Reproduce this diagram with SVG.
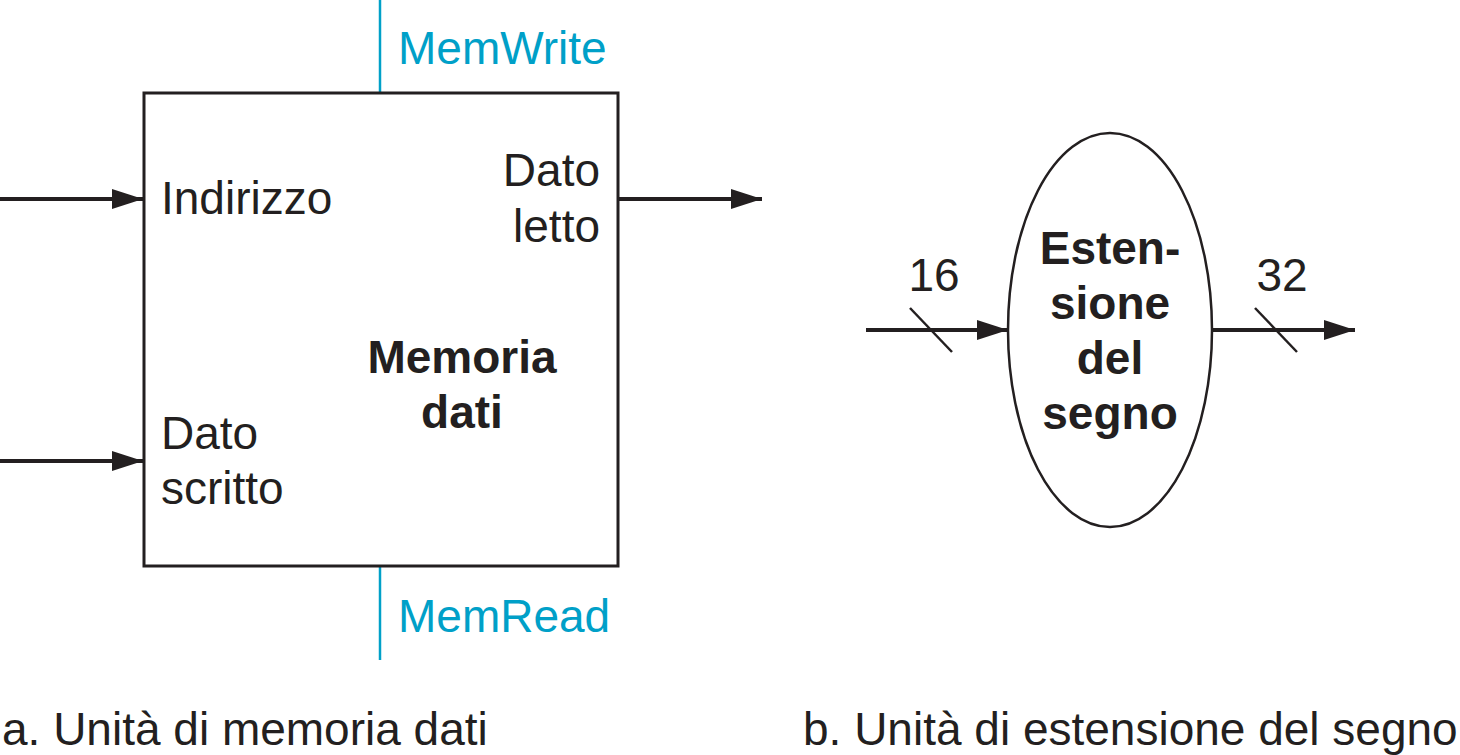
<svg xmlns="http://www.w3.org/2000/svg" width="1460" height="755" viewBox="0 0 1460 755">
  <style>
    .t { font-family: "Liberation Sans", Arial, sans-serif; font-size: 46px; fill: #231f20; }
    .b { font-weight: bold; text-anchor: middle; }
    .c { fill: #00a0c8; }
    .w { stroke: #231f20; stroke-width: 4; fill: none; }
    .ctl { stroke: #00a0c8; stroke-width: 2.5; fill: none; }
  </style>
  <defs>
    <marker id="ah" markerUnits="userSpaceOnUse" markerWidth="32" markerHeight="20" refX="31" refY="10" orient="auto">
      <path d="M0,0 L31,10 L0,20 Z" fill="#231f20"/>
    </marker>
  </defs>
  <g id="connectors">
    <line class="ctl" x1="380" y1="0" x2="380" y2="93"/>
    <line class="ctl" x1="380" y1="566" x2="380" y2="660"/>
    <line class="w" x1="0" y1="199" x2="143" y2="199" marker-end="url(#ah)"/>
    <line class="w" x1="0" y1="461" x2="143" y2="461" marker-end="url(#ah)"/>
    <line class="w" x1="618" y1="199" x2="762" y2="199" marker-end="url(#ah)"/>
    <line class="w" x1="866" y1="330" x2="1008" y2="330" marker-end="url(#ah)"/>
    <line class="w" x1="1212" y1="330" x2="1355" y2="330" marker-end="url(#ah)"/>
    <line stroke="#231f20" stroke-width="2.5" x1="910" y1="308" x2="952" y2="352"/>
    <line stroke="#231f20" stroke-width="2.5" x1="1255" y1="308" x2="1297" y2="352"/>
  </g>
  <g id="memoria">
    <rect x="144" y="93" width="474" height="473" fill="none" stroke="#231f20" stroke-width="3"/>
    <text class="t" x="161" y="214">Indirizzo</text>
    <text class="t" x="600" y="186" text-anchor="end">Dato</text>
    <text class="t" x="600" y="242" text-anchor="end">letto</text>
    <text class="t" x="161" y="449">Dato</text>
    <text class="t" x="161" y="504">scritto</text>
    <text class="t b" x="462" y="373">Memoria</text>
    <text class="t b" x="462" y="428">dati</text>
  </g>
  <g id="memwrite">
    <text class="t c" x="398" y="64">MemWrite</text>
  </g>
  <g id="memread">
    <text class="t c" x="398" y="632">MemRead</text>
  </g>
  <g id="estensione">
    <ellipse cx="1110" cy="330" rx="102" ry="197" fill="none" stroke="#231f20" stroke-width="2.5"/>
    <text class="t b" x="1110" y="264">Esten-</text>
    <text class="t b" x="1110" y="319">sione</text>
    <text class="t b" x="1110" y="374">del</text>
    <text class="t b" x="1110" y="429">segno</text>
  </g>
  <g id="labels">
    <text class="t" x="934" y="291" text-anchor="middle">16</text>
    <text class="t" x="1282" y="291" text-anchor="middle">32</text>
    <text class="t" x="2" y="745">a. Unità di memoria dati</text>
    <text class="t" x="803" y="745">b. Unità di estensione del segno</text>
  </g>
</svg>
